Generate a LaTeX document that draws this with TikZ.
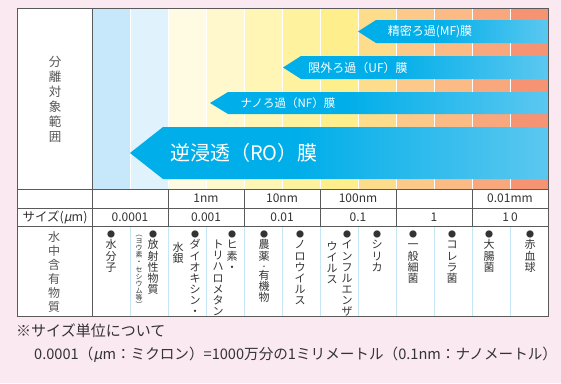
\documentclass[tikz,border=0pt]{standalone}
\usepackage{fontspec}
\setmainfont{Noto Sans CJK JP}
\newfontfamily\slantjp[FakeSlant=0.2]{Noto Sans CJK JP}
\usetikzlibrary{positioning}

\definecolor{bgpink}{HTML}{FBE9F2}
\definecolor{frame}{HTML}{5A5A5A}
\definecolor{ink}{HTML}{333333}
\definecolor{inksoft}{HTML}{555555}
\definecolor{gridblue}{HTML}{C4E6F7}
\definecolor{memA}{HTML}{00AEE9}
\definecolor{memB}{HTML}{A8DDF6}
\definecolor{colA}{HTML}{C6E8FA}
\definecolor{colB}{HTML}{E0F3FC}
\definecolor{colC}{HTML}{FFFBE2}
\definecolor{colD}{HTML}{FFF8CC}
\definecolor{colE}{HTML}{FFF5B5}
\definecolor{colF}{HTML}{FFF29F}
\definecolor{colG}{HTML}{FEEF8C}
\definecolor{colH}{HTML}{FDDC8C}
\definecolor{colI}{HTML}{FDC98A}
\definecolor{colJ}{HTML}{FCBB84}
\definecolor{colK}{HTML}{F9A77C}
\definecolor{colL}{HTML}{F69373}
\pgfdeclarehorizontalshading{membrane}{100bp}{color(0bp)=(memA); color(45bp)=(memA); color(100bp)=(memB)}

\newcommand{\bul}{{\fontsize{8}{8}\selectfont ●}}
\newcommand{\mudot}{{\slantjp μ}}

\begin{document}
\begin{tikzpicture}[
    x=1pt,
    y=-1pt,
    font=\fontsize{12}{14}\selectfont,
    memlabel/.style={text=white,inner sep=0pt},
    cell/.style={text=ink,inner sep=0pt},
    itemtxt/.style={anchor=north,align=center,inner sep=0pt,text=ink,
        font=\fontsize{11}{11.1}\selectfont},
    subtxt/.style={anchor=north,align=center,inner sep=0pt,text=ink,
        font=\fontsize{7}{7.1}\selectfont},
    rule/.style={frame,line width=0.9pt}
]
    \useasboundingbox[fill=bgpink] (0,0) rectangle (561,383);

    % columns of the size chart
    \fill[white] (17,8) rectangle (548,316);
    \foreach \c [count=\i from 0] in {colA,colB,colC,colD,colE,colF,colG,colH,colI,colJ,colK,colL}
        \fill[\c] (92+38*\i,8) rectangle ++(38,181);
    \foreach \i in {1,...,11}
        \draw[white,line width=1pt] (92+38*\i,8) -- ++(0,181);
    \foreach \i in {1,...,11}
        \draw[gridblue,line width=0.6pt] (92+38*\i,226) -- (92+38*\i,316);

    % membranes
    \shade[shading=membrane] (358,31.5) -- (376,20) -- (548,20) -- (548,43) -- (376,43) -- cycle;
    \node[memlabel,font=\fontsize{12}{14}\selectfont] (mf) at (430,31.5) {精密ろ過(MF)膜};
    \shade[shading=membrane] (283,67.5) -- (301,56) -- (548,56) -- (548,79) -- (301,79) -- cycle;
    \node[memlabel,font=\fontsize{12}{14}\selectfont] (uf) at (358,67.5) {限外ろ過（UF）膜};
    \shade[shading=membrane] (210,103) -- (228,92) -- (548,92) -- (548,114) -- (228,114) -- cycle;
    \node[memlabel,font=\fontsize{11.5}{14}\selectfont] (nf) at (288,103) {ナノろ過（NF）膜};
    \shade[shading=membrane] (130,153) -- (163,127) -- (548,127) -- (548,179) -- (163,179) -- cycle;
    \node[memlabel,font=\fontsize{20}{24}\selectfont] (ro) at (244,153) {逆浸透（RO）膜};

    % table frame
    \draw[rule] (17,8) rectangle (548,316);
    \draw[rule] (92,8) -- (92,316);
    \foreach \y in {189,208,226}
        \draw[rule] (17,\y) -- (548,\y);
    \foreach \x in {168,244,320,396,472}
        \draw[rule] (\x,189) -- (\x,226);

    % left headings
    \node[align=center,inner sep=0pt,text=inksoft,font=\fontsize{12.5}{15}\selectfont]
        (target) at (55,99) {分\\離\\対\\象\\範\\囲};
    \node[align=center,inner sep=0pt,text=inksoft,font=\fontsize{12}{14}\selectfont]
        (water) at (54,272) {水\\中\\含\\有\\物\\質};
    \node[cell,font=\fontsize{12.5}{14}\selectfont] (sizehead) at (55,217) {サイズ(\mudot m)};

    % scale
    \node[cell] (nm1) at (206,198) {1nm};
    \node[cell] (nm10) at (282,198) {10nm};
    \node[cell] (nm100) at (358,198) {100nm};
    \node[cell] (mm001) at (510,198) {0.01mm};
    \foreach \x/\v [count=\k] in {130/0.0001,206/0.001,282/0.01,358/0.1,434/1,510/1\,0}
        \node[cell] (size\k) at (\x,217) {\v};

    % contents of water
    \foreach \x/\txt [count=\k] in {
        111/{\bul\\水\\分\\子},
        153/{\bul\\放\\射\\性\\物\\質},
        195/{\bul\\ダ\\イ\\オ\\キ\\シ\\ン\\・},
        232/{\bul\\ヒ\\素\\・},
        264/{\bul\\農\\薬\\[-2pt]{\fontsize{7}{7}\selectfont ・}\\[-1pt]有\\機\\物},
        300/{\bul\\ノ\\ロ\\ウ\\イ\\ル\\ス},
        347/{\bul\\イ\\ン\\フ\\ル\\エ\\ン\\ザ},
        377/{\bul\\シ\\リ\\カ},
        413/{\bul\\一\\般\\細\\菌},
        452/{\bul\\コ\\レ\\ラ\\菌},
        489/{\bul\\大\\腸\\菌},
        530/{\bul\\赤\\血\\球}}
        \node[itemtxt] (item\k) at (\x,231) {\txt};
    \node[subtxt] (item2b) at (139,235) {︵\\ヨ\\ウ\\素\\・\\セ\\シ\\ウ\\ム\\等\\︶};
    \node[itemtxt] (item3b) at (178,242) {水\\銀};
    \node[itemtxt] (item4b) at (218,240) {ト\\リ\\ハ\\ロ\\メ\\タ\\ン};
    \node[itemtxt] (item7b) at (332,241) {ウ\\イ\\ル\\ス};

    % note
    \node[anchor=west,inner sep=0pt,text=ink,font=\fontsize{15}{18}\selectfont]
        (note) at (16,331) {※サイズ単位について};
    \node[anchor=west,inner sep=0pt,text=ink,font=\fontsize{14.6}{17}\selectfont]
        (unit) at (34,355) {0.0001（\mudot m：ミクロン）=1000万分の1ミリメートル（0.1nm：ナノメートル）};
\end{tikzpicture}
\end{document}
